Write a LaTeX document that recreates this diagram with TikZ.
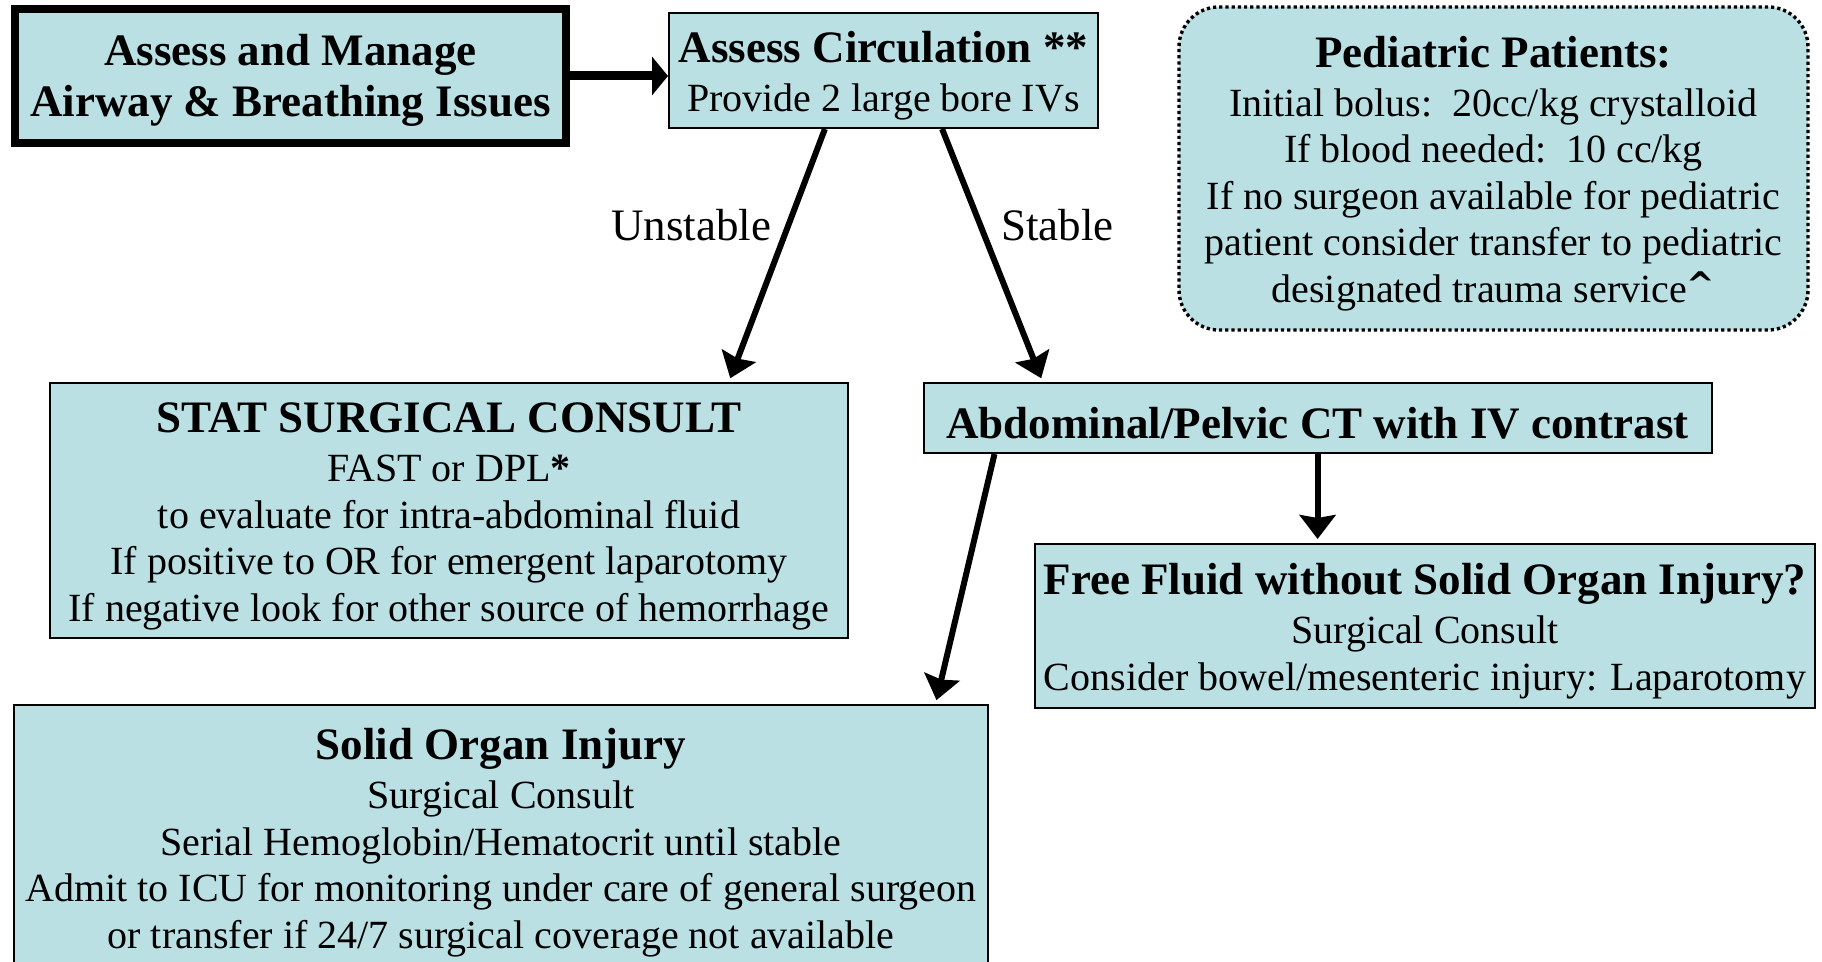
\documentclass[tikz,border=0pt]{standalone}
\usepackage{fontspec}
\setmainfont{Liberation Serif}
\newfontfamily\symfont{DejaVu Sans}
\usetikzlibrary{arrows.meta, calc}
\definecolor{boxfill}{RGB}{186,224,228}
\newcommand{\hd}[1]{{\fontsize{22.5}{25}\selectfont\bfseries\rule{0pt}{21pt}#1}}

\begin{document}
\begin{tikzpicture}[x=0.5pt, y=-0.5pt,
        box/.style={draw, fill=boxfill, line width=1pt, align=center, inner sep=0pt,
                    font=\fontsize{20}{23.25}\selectfont},
        ped/.style={box, rounded corners=20pt, line width=1.7pt,
                    dash pattern=on 1.6pt off 1.5pt},
        arr/.style={line width=3pt, -{Stealth[length=12pt,width=18pt,inset=1.5pt]},
                    shorten >=2pt},
        lbl/.style={font=\fontsize{22.5}{25}\selectfont, inner sep=0pt}]

    \useasboundingbox (0,0) rectangle (1822,962);

    \node[box, line width=4pt, minimum width=275.5pt, minimum height=67pt,
          font=\fontsize{22.5}{25.5}\selectfont\bfseries] (airway) at (290.5,76)
          {\rule{0pt}{20pt}Assess and Manage\\Airway \& Breathing Issues};
    \node[box, minimum width=214.5pt, minimum height=57.5pt] (circ) at (883.5,70.5)
          {\hd{Assess Circulation **}\\[1.25pt]Provide 2 large bore IVs};
    \node[ped, minimum width=314.5pt, minimum height=161.5pt] (peds) at (1493.5,168.5)
          {\hd{Pediatric Patients:}\\[1pt]
           Initial bolus:\ \ 20cc/kg crystalloid\\
           If blood needed:\ \ 10 cc/kg\\
           If no surgeon available for pediatric\\
           patient consider transfer to pediatric\\
           designated trauma service\raisebox{3pt}{\symfont\bfseries\fontsize{17}{17}\selectfont\textasciicircum}};
    \node[box, minimum width=398.75pt, minimum height=127.5pt] (stat) at (449,510.5)
          {\hd{STAT SURGICAL CONSULT}\\[1.25pt]
           FAST or DPL\textbf{*}\\
           to evaluate for intra-abdominal fluid\\
           If positive to OR for emergent laparotomy\\
           If negative look for other source of hemorrhage};
    \node[box, minimum width=394pt, minimum height=35pt] (ct) at (1317.6,418)
          {\hd{Abdominal/Pelvic CT with IV contrast}};
    \node[box, minimum width=390pt, minimum height=82pt] (free) at (1425,626)
          {\hd{Free Fluid without Solid Organ Injury?}\\[1.25pt]
           Surgical Consult\\
           Consider bowel/mesenteric injury: Laparotomy};
    \node[box, minimum width=487.25pt, minimum height=132.5pt] (solid) at (501,837.5)
          {\hd{Solid Organ Injury}\\[1.25pt]
           Surgical Consult\\
           Serial Hemoglobin/Hematocrit until stable\\
           Admit to ICU for monitoring under care of general surgeon\\
           or transfer if 24/7 surgical coverage not available};

    \draw[line width=4.5pt, -{Triangle[length=8pt,width=19pt]}]
        (airway.east) -- (airway.east -| circ.west);
    \draw[arr] ($(circ.south west)!.364!(circ.south east)$)
        -- node[lbl, pos=.38, left=7pt] {Unstable}
        ($(stat.north west)!.85!(stat.north east)$);
    \draw[arr] ($(circ.south west)!.636!(circ.south east)$)
        -- node[lbl, pos=.38, right=9pt] {Stable}
        ($(ct.north west)!.152!(ct.north east)$);
    \draw[arr] ($(ct.south west)!.091!(ct.south east)$)
        -- ($(solid.north west)!.945!(solid.north east)$);
    \draw[arr] (ct.south) -- (ct.south |- free.north);
\end{tikzpicture}
\end{document}
